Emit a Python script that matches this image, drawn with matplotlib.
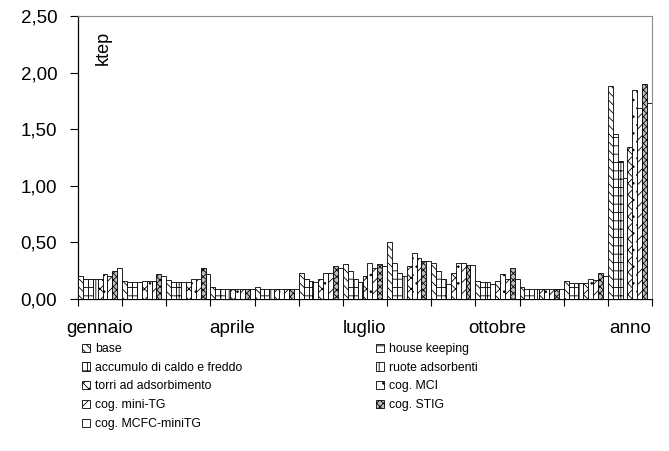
import matplotlib.pyplot as plt
import numpy as np
from matplotlib.ticker import FuncFormatter, FixedLocator

plt.rcParams['font.family'] = ['Liberation Sans', 'DejaVu Sans']
plt.rcParams['hatch.linewidth'] = 0.6

mesi = ['gennaio', 'febbraio', 'marzo', 'aprile', 'maggio', 'giugno', 'luglio',
        'agosto', 'settembre', 'ottobre', 'novembre', 'dicembre', 'anno']

base = [0.20, 0.16, 0.17, 0.11, 0.11, 0.23, 0.31, 0.50, 0.32, 0.16, 0.11, 0.16, 1.88]
house_keeping = [0.18, 0.15, 0.15, 0.09, 0.09, 0.18, 0.25, 0.32, 0.25, 0.15, 0.09, 0.14, 1.46]
accumulo = [0.18, 0.15, 0.15, 0.09, 0.09, 0.16, 0.18, 0.23, 0.18, 0.15, 0.09, 0.14, 1.22]
ruote = [0.18, 0.15, 0.15, 0.09, 0.09, 0.15, 0.15, 0.20, 0.13, 0.13, 0.09, 0.14, 1.07]
torri = [0.18, 0.16, 0.15, 0.09, 0.09, 0.18, 0.20, 0.29, 0.23, 0.16, 0.09, 0.14, 1.34]
cog_mci = [0.22, 0.16, 0.18, 0.09, 0.09, 0.23, 0.32, 0.41, 0.32, 0.22, 0.09, 0.18, 1.85]
cog_minitg = [0.20, 0.16, 0.18, 0.09, 0.09, 0.23, 0.27, 0.36, 0.32, 0.18, 0.09, 0.17, 1.69]
cog_stig = [0.25, 0.22, 0.27, 0.09, 0.09, 0.29, 0.31, 0.34, 0.30, 0.27, 0.09, 0.23, 1.90]
cog_mcfc = [0.27, 0.20, 0.22, 0.09, 0.09, 0.27, 0.29, 0.34, 0.30, 0.18, 0.09, 0.20, 1.73]

serie = [base, house_keeping, accumulo, ruote, torri, cog_mci, cog_minitg, cog_stig, cog_mcfc]
nomi = ['base', 'house keeping', 'accumulo di caldo e freddo', 'ruote adsorbenti',
        'torri ad adsorbimento', 'cog. MCI', 'cog. mini-TG', 'cog. STIG', 'cog. MCFC-miniTG']
# hatch pattern and fill for each series, same order as serie
stili = [('\\\\\\\\', 'white'), ('--', 'white'), ('++', 'white'), ('||', 'white'),
         ('xxx', 'white'), ('..', 'white'), ('///', 'white'), ('xxxxx', '0.75'), ('', 'white')]

fig = plt.figure(figsize=(6.69, 4.51), dpi=100)
ax = fig.add_axes([78 / 669, 1 - 299 / 451, 574 / 669, 283 / 451])

n = len(serie)
w = 1.0 / n
x = np.arange(len(mesi))
handles = []
for j, (vals, nome, (h, fc)) in enumerate(zip(serie, nomi, stili)):
    b = ax.bar(x + j * w, vals, w, align='edge', color=fc, edgecolor='black',
               hatch=h, linewidth=0.6, label=nome, zorder=3)
    handles.append(b)

ax.set_xlim(0, len(mesi))
ax.set_ylim(0, 2.5)
ax.set_yticks(np.arange(0, 2.51, 0.5))
ax.yaxis.set_major_formatter(FuncFormatter(lambda v, p: f'{v:.2f}'.replace('.', ',')))
ax.tick_params(axis='y', labelsize=13.5, length=6, width=0.8, pad=9, color='black')

# ticks between categories, labels every third month
ax.xaxis.set_major_locator(FixedLocator(np.arange(0, len(mesi) + 1)))
ax.set_xticklabels([])
ax.xaxis.set_minor_locator(FixedLocator([0.5, 3.5, 6.5, 9.5, 12.5]))
ax.set_xticklabels([mesi[i] for i in (0, 3, 6, 9, 12)], minor=True)
ax.tick_params(axis='x', which='major', length=5, width=0.8)
ax.tick_params(axis='x', which='minor', length=0, labelsize=13.5, pad=15)

for s in ['top', 'right']:
    ax.spines[s].set_color('0.55')
    ax.spines[s].set_linewidth(0.8)
for s in ['left', 'bottom']:
    ax.spines[s].set_linewidth(0.9)

ax.text(25 / 574, 1 - 32 / 283, 'ktep', rotation=90, fontsize=13, ha='center', va='center',
        transform=ax.transAxes)

col1 = [handles[i] for i in (0, 2, 4, 6, 8)]
col2 = [handles[i] for i in (1, 3, 5, 7)]
kw = dict(frameon=False, fontsize=8.8, handlelength=0.65, handleheight=0.65,
          handletextpad=0.4, labelspacing=0.55, borderpad=0, borderaxespad=0, loc='upper left')
leg1 = fig.legend(col1, [h.get_label() for h in col1], bbox_to_anchor=(82 / 669, 1 - 343 / 451), **kw)
leg2 = fig.legend(col2, [h.get_label() for h in col2], bbox_to_anchor=(376 / 669, 1 - 343 / 451), **kw)

fig.savefig('out.png', dpi=100)
